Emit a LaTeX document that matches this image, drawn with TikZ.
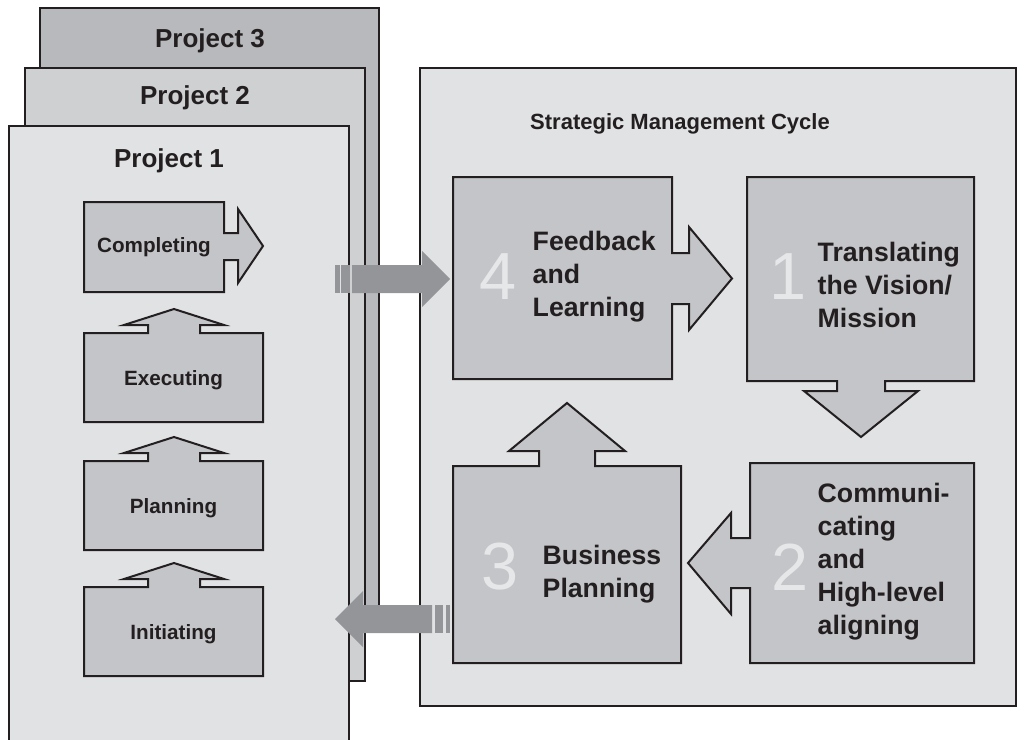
\documentclass[tikz,border=0pt]{standalone}
\usepackage{fontspec}
\setmainfont{Liberation Sans}
\usepackage{xcolor}
\definecolor{ink}{RGB}{35,31,32}
\definecolor{panel}{RGB}{225,226,228}
\definecolor{paneltwo}{RGB}{207,208,210}
\definecolor{panelthree}{RGB}{184,185,188}
\definecolor{stepgray}{RGB}{196,197,200}
\definecolor{arrowgray}{RGB}{147,149,152}
\definecolor{numgray}{RGB}{230,231,232}

\begin{document}
\begin{tikzpicture}[x=0.75pt, y=-0.75pt,
  outline/.style={draw=ink, line width=1.5pt, line join=miter},
  stepshape/.style={outline, fill=stepgray},
  steplabel/.style={font=\fontsize{15.5}{18}\selectfont\bfseries, text=ink},
  cyclelabel/.style={font=\fontsize{20}{24.7}\selectfont\bfseries, text=ink, align=left, anchor=west},
  bignum/.style={font=\fontsize{50}{50}\selectfont, text=numgray},
  titlelabel/.style={font=\fontsize{19.5}{22}\selectfont\bfseries, text=ink},
  bigarrow/.style={fill=arrowgray}]
\useasboundingbox (0,0) rectangle (1024,739);
\clip (0,0) rectangle (1024,739);

% Project stack
\draw[outline, fill=panelthree] (40,8) rectangle (379,620);
\draw[outline, fill=paneltwo] (25,68) rectangle (365,681);
\draw[outline, fill=panel] (9,126) rectangle (349,760);
\node[titlelabel] (proj3) at (210,41) {Project 3};
\node[titlelabel] (proj2) at (195,98) {Project 2};
\node[titlelabel] (proj1) at (169,161) {Project 1};

% Project phases
\draw[stepshape] (84,202) -- (224,202) -- (224,233) -- (238,233) -- (238,209) -- (263,246)
  -- (238,283) -- (238,260) -- (224,260) -- (224,292) -- (84,292) -- cycle;
\node[steplabel] (compl) at (154,247) {Completing};
\foreach \ytop/\name/\txt in {333/exec/Executing, 461/plan/Planning, 587/init/Initiating}{
  \draw[stepshape] (84,\ytop) -- (148,\ytop) -- (148,\ytop-8) -- (124,\ytop-8) -- (174,\ytop-24)
    -- (224,\ytop-8) -- (200,\ytop-8) -- (200,\ytop) -- (263,\ytop) -- (263,\ytop+89)
    -- (84,\ytop+89) -- cycle;
  \node[steplabel] (\name) at (173.5,\ytop+47) {\txt};
}

% Strategic management cycle
\draw[outline, fill=panel] (420,68) rectangle (1016,706);
\node[font=\fontsize{16.5}{20}\selectfont\bfseries, text=ink] (smc) at (680,124) {Strategic Management Cycle};

\draw[stepshape] (453,177) -- (672,177) -- (672,253) -- (689,253) -- (689,227) -- (732,278.5)
  -- (689,330) -- (689,304) -- (672,304) -- (672,379) -- (453,379) -- cycle;
\draw[stepshape] (747,177) -- (974,177) -- (974,381) -- (885,381) -- (885,391) -- (918,391)
  -- (861,437) -- (804,391) -- (837,391) -- (837,381) -- (747,381) -- cycle;
\draw[stepshape] (750,463) -- (974,463) -- (974,663) -- (750,663) -- (750,588) -- (731,588)
  -- (731,614) -- (688,563) -- (731,513) -- (731,538) -- (750,538) -- cycle;
\draw[stepshape] (453,466) -- (539,466) -- (539,451) -- (509,451) -- (567,403) -- (625,451)
  -- (595,451) -- (595,466) -- (681,466) -- (681,663) -- (453,663) -- cycle;

\node[bignum] (num4) at (498,277) {4};
\node[cyclelabel] (feedback) at (528,277) {Feedback\\and\\Learning};
\node[bignum] (num1) at (788,277) {1};
\node[cyclelabel] (vision) at (813,285) {Translating\\the Vision/\\Mission};
\node[bignum] (num2) at (790,567) {2};
\node[cyclelabel] (align) at (813,562) {Communi-\\cating\\and\\High-level\\aligning};
\node[bignum] (num3) at (500,567) {3};
\node[cyclelabel] (business) at (538,574) {Business\\Planning};

% Project 1 -> Feedback
\fill[bigarrow] (335,265) rectangle (339.5,293);
\fill[bigarrow] (341,265) rectangle (350,293);
\fill[bigarrow] (352,265) -- (422,265) -- (422,251) -- (450,279) -- (422,307) -- (422,293) -- (352,293) -- cycle;

% Business Planning -> Project 1
\fill[bigarrow] (446,605) rectangle (450,633);
\fill[bigarrow] (435,605) rectangle (443,633);
\fill[bigarrow] (432,605) -- (363,605) -- (363,591) -- (335,619) -- (363,647) -- (363,633) -- (432,633) -- cycle;
\end{tikzpicture}
\end{document}
